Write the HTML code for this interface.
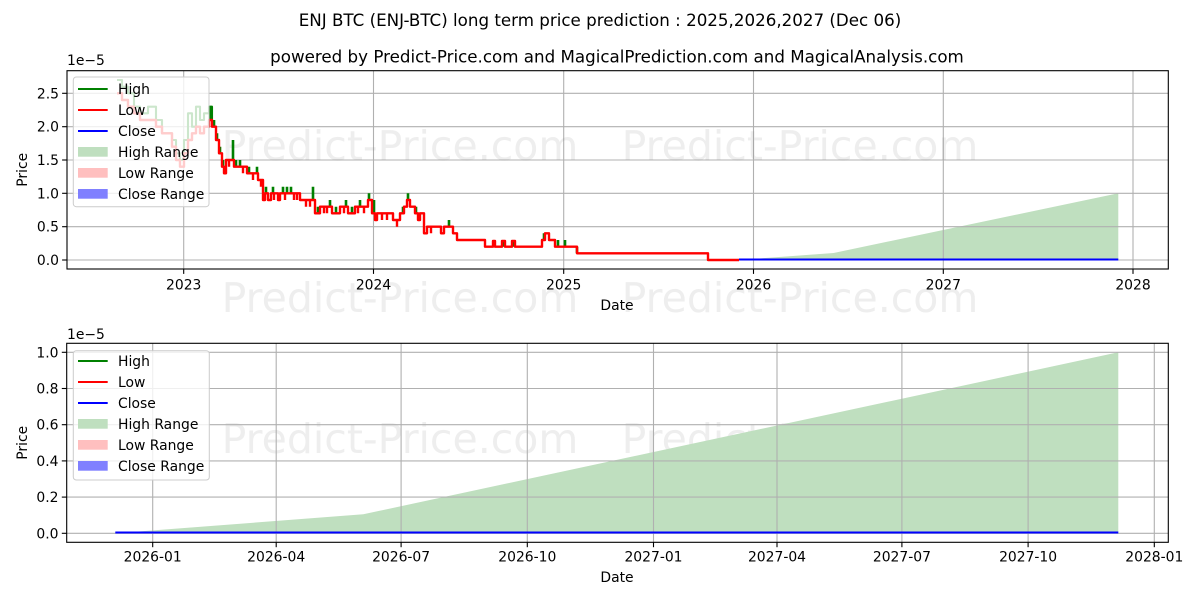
<!DOCTYPE html>
<html>
<head>
<meta charset="utf-8">
<style>
html,body{margin:0;padding:0;background:#fff;}
svg{display:block;}
text{font-family:"DejaVu Sans","Liberation Sans",sans-serif;fill:#000;}
</style>
</head>
<body>
<svg width="1200" height="600" viewBox="0 0 1200 600" xmlns="http://www.w3.org/2000/svg">
<rect x="0" y="0" width="1200" height="600" fill="#fff"/>

<!-- Titles -->
<text x="600" y="26" font-size="16.7" text-anchor="middle">ENJ BTC (ENJ-BTC) long term price prediction : 2025,2026,2027 (Dec 06)</text>
<text x="617" y="62.5" font-size="16.7" text-anchor="middle">powered by Predict-Price.com and MagicalPrediction.com and MagicalAnalysis.com</text>

<!-- ================= TOP CHART ================= -->
<polygon points="739,260 833.6,253 1118.3,193.3 1118.3,260" fill="#bfdfbf"/>

<g stroke="#b0b0b0" stroke-width="1.1">
  <line x1="67" y1="260" x2="1168.3" y2="260"/>
  <line x1="67" y1="226.7" x2="1168.3" y2="226.7"/>
  <line x1="67" y1="193.3" x2="1168.3" y2="193.3"/>
  <line x1="67" y1="160" x2="1168.3" y2="160"/>
  <line x1="67" y1="126.7" x2="1168.3" y2="126.7"/>
  <line x1="67" y1="93.3" x2="1168.3" y2="93.3"/>
  <line x1="183.7" y1="70.7" x2="183.7" y2="269"/>
  <line x1="373.5" y1="70.7" x2="373.5" y2="269"/>
  <line x1="563.7" y1="70.7" x2="563.7" y2="269"/>
  <line x1="753.5" y1="70.7" x2="753.5" y2="269"/>
  <line x1="943.3" y1="70.7" x2="943.3" y2="269"/>
  <line x1="1133" y1="70.7" x2="1133" y2="269"/>
</g>

<!-- watermarks -->
<g font-size="41" text-anchor="middle" opacity="0.13">
  <text x="400" y="160" style="fill:#808080">Predict-Price.com</text>
  <text x="800" y="160" style="fill:#808080">Predict-Price.com</text>
  <text x="400" y="312" style="fill:#808080">Predict-Price.com</text>
  <text x="800" y="312" style="fill:#808080">Predict-Price.com</text>
  <text x="400" y="453" style="fill:#808080">Predict-Price.com</text>
  <text x="800" y="453" style="fill:#808080">Predict-Price.com</text>
</g>

<!-- high (green) early part -->
<polyline fill="none" stroke="#008000" stroke-width="2.1" stroke-linejoin="round"
 points="117,80 122,80 122,86.7 128,86.7 128,93.3 134,93.3 134,106.7 140,106.7 140,113.3 148,113.3 148,106.7 156,106.7 156,120 162,120 162,133.3 172,133.3 172,140 176,140 176,153.3 180,153.3 180,160 184,160 184,140 188,140 188,113.3 192,113.3 192,126.7 196,126.7 196,106.7 200,106.7 200,120 204,120 204,113.3 209,113.3 209,106.7 212,106.7 212,120"/>
<!-- high spikes -->
<path fill="none" stroke="#008000" stroke-width="2.6" d="
M210 120 V106.7 M214 126.7 V120 M217 140 V133.3 M220 153.3 V146.7 M223 166.7 V160 M225 173.3 V166.7
M233 160 V140 M236 166.7 V160 M240 166.7 V160 M249 173.3 V166.7 M257 173.3 V166.7
M266 193.3 V186.7 M273 193.3 V186.7 M283 193.3 V186.7 M287 193.3 V186.7 M291 193.3 V186.7
M313 200 V186.7 M318 213.3 V206.7 M330 206.7 V200 M336 213.3 V206.7 M346 206.7 V200 M352 213.3 V206.7
M360 206.7 V200 M369 200 V193.3 M374 213.3 V200 M403 213.3 V206.7 M408 200 V193.3 M416 213.3 V206.7
M449 226.7 V220 M494 246.7 V240 M503 246.7 V240 M513 246.7 V240 M544 240 V233.3 M558 246.7 V240
M565 246.7 V240 M577 253.3 V246.7"/>

<!-- low (red) -->
<polyline fill="none" stroke="#ff0000" stroke-width="2.4" stroke-linejoin="round"
 points="117,93.3 122,93.3 122,100 128,100 128,106.7 134,106.7 134,113.3 140,113.3 140,120 156,120 156,126.7 162,126.7 162,133.3 172,133.3 172,146.7 176,146.7 176,160 180,160 180,166.7 184,166.7 184,153.3 188,153.3 188,140 192,140 192,133.3 196,133.3 196,126.7 200,126.7 200,133.3 204,133.3 204,126.7 209,126.7 209,120 212,120 212,126.7 216,126.7 216,140 219,140 219,153.3 222,153.3 222,166.7 224,166.7 224,173.3 226,173.3 226,160 234,160 234,166.7 247,166.7 247,173.3 258,173.3 258,180 263,180 263,200 265,200 265,193.3 268,193.3 268,200 271,200 271,193.3 278,193.3 278,200 280,200 280,193.3 300,193.3 300,200 315,200 315,213.3 320,213.3 320,206.7 332,206.7 332,213.3 340,213.3 340,206.7 348,206.7 348,213.3 355,213.3 355,206.7 368,206.7 368,200 372,200 372,213.3 375,213.3 375,220 377,220 377,213.3 393,213.3 393,220 400,220 400,213.3 404,213.3 404,206.7 407,206.7 407,200 410,200 410,206.7 415,206.7 415,213.3 418,213.3 418,220 420,220 420,213.3 424,213.3 424,233.3 427,233.3 427,226.7 441,226.7 441,233.3 444,233.3 444,226.7 453,226.7 453,233.3 457,233.3 457,240 485,240 485,246.7 493,246.7 493,241 495,241 495,246.7 502,246.7 502,241 505,241 505,246.7 512,246.7 512,241 515,241 515,246.7 542,246.7 542,240 545,240 545,233.3 549,233.3 549,240 555,240 555,246.7 577,246.7 577,253.3 708,253.3 708,260 739,260"/>
<!-- low dips -->
<path fill="none" stroke="#ff0000" stroke-width="2.4" d="
M229 160 V166.7 M243 166.7 V173.3 M253 173.3 V180 M261 180 V186.7
M274 193.3 V200 M285 193.3 V200 M294 193.3 V200 M297 193.3 V200
M306 200 V206.7 M310 200 V206.7 M324 206.7 V213.3 M327 206.7 V213.3
M344 206.7 V213.3 M358 206.7 V213.3 M364 206.7 V213.3
M382 213.3 V220 M387 213.3 V220 M397 220 V226.7 M431 226.7 V233.3"/>

<!-- close prediction -->
<line x1="739" y1="259.5" x2="1118.3" y2="259.5" stroke="#0000ff" stroke-width="2.1"/>

<rect x="67" y="70.7" width="1101.3" height="198.3" fill="none" stroke="#000" stroke-width="1.1"/>

<g stroke="#000" stroke-width="1.1">
  <line x1="62.1" y1="260" x2="67" y2="260"/>
  <line x1="62.1" y1="226.7" x2="67" y2="226.7"/>
  <line x1="62.1" y1="193.3" x2="67" y2="193.3"/>
  <line x1="62.1" y1="160" x2="67" y2="160"/>
  <line x1="62.1" y1="126.7" x2="67" y2="126.7"/>
  <line x1="62.1" y1="93.3" x2="67" y2="93.3"/>
  <line x1="183.7" y1="269" x2="183.7" y2="273.9"/>
  <line x1="373.5" y1="269" x2="373.5" y2="273.9"/>
  <line x1="563.7" y1="269" x2="563.7" y2="273.9"/>
  <line x1="753.5" y1="269" x2="753.5" y2="273.9"/>
  <line x1="943.3" y1="269" x2="943.3" y2="273.9"/>
  <line x1="1133" y1="269" x2="1133" y2="273.9"/>
</g>
<g font-size="13.9" text-anchor="end">
  <text x="59" y="265">0.0</text>
  <text x="59" y="231.7">0.5</text>
  <text x="59" y="198.3">1.0</text>
  <text x="59" y="165">1.5</text>
  <text x="59" y="131.7">2.0</text>
  <text x="59" y="98.3">2.5</text>
</g>
<g font-size="13.9" text-anchor="middle">
  <text x="183.7" y="289.5">2023</text>
  <text x="373.5" y="289.5">2024</text>
  <text x="563.7" y="289.5">2025</text>
  <text x="753.5" y="289.5">2026</text>
  <text x="943.3" y="289.5">2027</text>
  <text x="1133" y="289.5">2028</text>
</g>
<text x="67" y="65" font-size="13.9">1e−5</text>
<text x="617" y="310" font-size="13.9" text-anchor="middle">Date</text>
<text x="0" y="0" font-size="13.9" text-anchor="middle" transform="translate(27,169.8) rotate(-90)">Price</text>

<!-- top legend -->
<rect x="73.3" y="77" width="135.7" height="129.7" rx="3" ry="3" fill="#fff" fill-opacity="0.8" stroke="#cccccc" stroke-width="1"/>
<line x1="78" y1="89" x2="107.7" y2="89" stroke="#008000" stroke-width="2.1"/>
<line x1="78" y1="110" x2="107.7" y2="110" stroke="#ff0000" stroke-width="2.1"/>
<line x1="78" y1="131" x2="107.7" y2="131" stroke="#0000ff" stroke-width="2.1"/>
<rect x="78" y="147" width="29.7" height="9.7" fill="#bfdfbf"/>
<rect x="78" y="168" width="29.7" height="9.7" fill="#ffbfbf"/>
<rect x="78" y="189" width="29.7" height="9.7" fill="#8080ff"/>
<g font-size="13.9">
  <text x="118" y="94">High</text>
  <text x="118" y="115">Low</text>
  <text x="118" y="136">Close</text>
  <text x="118" y="157">High Range</text>
  <text x="118" y="178">Low Range</text>
  <text x="118" y="199">Close Range</text>
</g>

<!-- ================= BOTTOM CHART ================= -->
<polygon points="115.3,533.3 363.3,514.3 1118.3,352.3 1118.3,533.3" fill="#bfdfbf"/>

<g stroke="#b0b0b0" stroke-width="1.1">
  <line x1="66.7" y1="533.3" x2="1168.3" y2="533.3"/>
  <line x1="66.7" y1="497.1" x2="1168.3" y2="497.1"/>
  <line x1="66.7" y1="460.9" x2="1168.3" y2="460.9"/>
  <line x1="66.7" y1="424.7" x2="1168.3" y2="424.7"/>
  <line x1="66.7" y1="388.5" x2="1168.3" y2="388.5"/>
  <line x1="66.7" y1="352.3" x2="1168.3" y2="352.3"/>
  <line x1="152.7" y1="343.3" x2="152.7" y2="542.3"/>
  <line x1="276.2" y1="343.3" x2="276.2" y2="542.3"/>
  <line x1="401.1" y1="343.3" x2="401.1" y2="542.3"/>
  <line x1="527.3" y1="343.3" x2="527.3" y2="542.3"/>
  <line x1="653.5" y1="343.3" x2="653.5" y2="542.3"/>
  <line x1="777" y1="343.3" x2="777" y2="542.3"/>
  <line x1="901.9" y1="343.3" x2="901.9" y2="542.3"/>
  <line x1="1028.1" y1="343.3" x2="1028.1" y2="542.3"/>
  <line x1="1154.3" y1="343.3" x2="1154.3" y2="542.3"/>
</g>

<line x1="115.3" y1="532.5" x2="1118.3" y2="532.5" stroke="#0000ff" stroke-width="2.1"/>

<rect x="66.7" y="343.3" width="1101.6" height="199" fill="none" stroke="#000" stroke-width="1.1"/>

<g stroke="#000" stroke-width="1.1">
  <line x1="61.8" y1="533.3" x2="66.7" y2="533.3"/>
  <line x1="61.8" y1="497.1" x2="66.7" y2="497.1"/>
  <line x1="61.8" y1="460.9" x2="66.7" y2="460.9"/>
  <line x1="61.8" y1="424.7" x2="66.7" y2="424.7"/>
  <line x1="61.8" y1="388.5" x2="66.7" y2="388.5"/>
  <line x1="61.8" y1="352.3" x2="66.7" y2="352.3"/>
  <line x1="152.7" y1="542.3" x2="152.7" y2="547.2"/>
  <line x1="276.2" y1="542.3" x2="276.2" y2="547.2"/>
  <line x1="401.1" y1="542.3" x2="401.1" y2="547.2"/>
  <line x1="527.3" y1="542.3" x2="527.3" y2="547.2"/>
  <line x1="653.5" y1="542.3" x2="653.5" y2="547.2"/>
  <line x1="777" y1="542.3" x2="777" y2="547.2"/>
  <line x1="901.9" y1="542.3" x2="901.9" y2="547.2"/>
  <line x1="1028.1" y1="542.3" x2="1028.1" y2="547.2"/>
  <line x1="1154.3" y1="542.3" x2="1154.3" y2="547.2"/>
</g>
<g font-size="13.9" text-anchor="end">
  <text x="58.5" y="538.3">0.0</text>
  <text x="58.5" y="502.1">0.2</text>
  <text x="58.5" y="465.9">0.4</text>
  <text x="58.5" y="429.7">0.6</text>
  <text x="58.5" y="393.5">0.8</text>
  <text x="58.5" y="357.3">1.0</text>
</g>
<g font-size="13.9" text-anchor="middle">
  <text x="152.7" y="561.5">2026-01</text>
  <text x="276.2" y="561.5">2026-04</text>
  <text x="401.1" y="561.5">2026-07</text>
  <text x="527.3" y="561.5">2026-10</text>
  <text x="653.5" y="561.5">2027-01</text>
  <text x="777" y="561.5">2027-04</text>
  <text x="901.9" y="561.5">2027-07</text>
  <text x="1028.1" y="561.5">2027-10</text>
  <text x="1154.3" y="561.5">2028-01</text>
</g>
<text x="67" y="339" font-size="13.9">1e−5</text>
<text x="617" y="582" font-size="13.9" text-anchor="middle">Date</text>
<text x="0" y="0" font-size="13.9" text-anchor="middle" transform="translate(27,442.8) rotate(-90)">Price</text>

<!-- bottom legend -->
<rect x="73.3" y="350.7" width="136" height="129.3" rx="3" ry="3" fill="#fff" fill-opacity="0.8" stroke="#cccccc" stroke-width="1"/>
<line x1="78" y1="361" x2="107.7" y2="361" stroke="#008000" stroke-width="2.1"/>
<line x1="78" y1="382" x2="107.7" y2="382" stroke="#ff0000" stroke-width="2.1"/>
<line x1="78" y1="403" x2="107.7" y2="403" stroke="#0000ff" stroke-width="2.1"/>
<rect x="78" y="419" width="29.7" height="9.7" fill="#bfdfbf"/>
<rect x="78" y="440" width="29.7" height="9.7" fill="#ffbfbf"/>
<rect x="78" y="461" width="29.7" height="9.7" fill="#8080ff"/>
<g font-size="13.9">
  <text x="118" y="366">High</text>
  <text x="118" y="387">Low</text>
  <text x="118" y="408">Close</text>
  <text x="118" y="429">High Range</text>
  <text x="118" y="450">Low Range</text>
  <text x="118" y="471">Close Range</text>
</g>
</svg>
</body>
</html>
